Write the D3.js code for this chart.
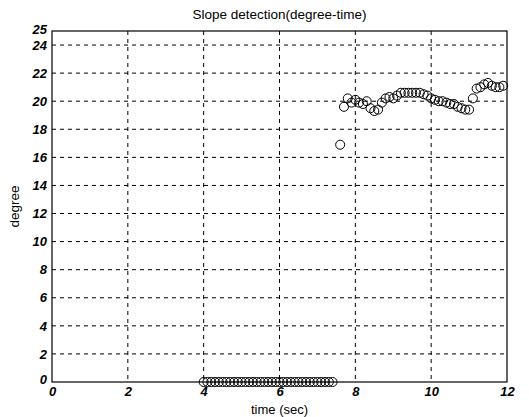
<!DOCTYPE html>
<html><head><meta charset="utf-8">
<script src="https://cdn.jsdelivr.net/npm/d3@7"></script>
<style>
body{margin:0;background:#fff;}
text{font-family:"Liberation Sans",Arial,sans-serif;}
</style></head>
<body><svg id="c" width="529" height="417"></svg>
<script>
const zeroTimes = [4.0,4.1,4.2,4.3,4.4,4.5,4.6,4.7,4.8,4.9,5.0,5.1,5.2,5.3,5.4,5.5,5.6,5.7,5.8,5.9,6.0,6.1,6.2,6.3,6.4,6.5,6.6,6.7,6.8,6.9,7.0,7.1,7.2,7.3,7.4];
const zeroValues = [0,0,0,0,0,0,0,0,0,0,0,0,0,0,0,0,0,0,0,0,0,0,0,0,0,0,0,0,0,0,0,0,0,0,0];
const highTimes = [7.6,7.7,7.8,7.9,8.0,8.1,8.2,8.3,8.4,8.5,8.6,8.7,8.8,8.9,9.0,9.1,9.2,9.3,9.4,9.5,9.6,9.7,9.8,9.9,10.0,10.1,10.2,10.3,10.4,10.5,10.6,10.7,10.8,10.9,11.0,11.1,11.2,11.3,11.4,11.5,11.6,11.7,11.8,11.9];
const highValues = [16.9,19.6,20.2,19.9,20.1,19.9,19.8,20.0,19.5,19.3,19.4,19.9,20.2,20.3,20.2,20.4,20.6,20.6,20.6,20.6,20.6,20.6,20.5,20.4,20.2,20.1,20.0,20.0,19.9,19.8,19.8,19.6,19.5,19.4,19.4,20.2,20.9,21.0,21.2,21.3,21.1,21.0,21.0,21.1];
const xTicks = [0,2,4,6,8,10,12];
const yTicks = [0,2,4,6,8,10,12,14,16,18,20,22,24,25];
const xGrid = [2,4,6,8,10];
const yGrid = [2,4,6,8,10,12,14,16,18,20,22,24];

const L=52,R=507,T=31,B=382;
const svg=d3.select("#c");
const x=d3.scaleLinear().domain([0,12]).range([L,R]);
const y=d3.scaleLinear().domain([0,25]).range([B,T]);

const g=svg.append("g");
g.selectAll(".vg").data(xGrid).join("line")
 .attr("x1",d=>x(d)).attr("x2",d=>x(d)).attr("y1",T).attr("y2",B)
 .attr("stroke","#000").attr("stroke-width",1).attr("stroke-dasharray","4,4");
g.selectAll(".hg").data(yGrid).join("line")
 .attr("x1",L).attr("x2",R).attr("y1",d=>y(d)).attr("y2",d=>y(d))
 .attr("stroke","#000").attr("stroke-width",1).attr("stroke-dasharray","4,4");

const xa=svg.append("g").attr("transform",`translate(0,${B})`)
 .call(d3.axisBottom(x).tickValues(xTicks).tickSize(0).tickPadding(5));
const ya=svg.append("g").attr("transform",`translate(${L},0)`)
 .call(d3.axisLeft(y).tickValues(yTicks).tickSize(0).tickPadding(5));
[xa,ya].forEach(a=>{a.select(".domain").remove();
 a.selectAll("text").attr("font-family","Liberation Sans, Arial, sans-serif")
  .attr("font-size",13).attr("font-weight","bold").attr("font-style","italic").attr("fill","#000");});
ya.selectAll("text").filter(d=>d===0).attr("dy","0.1em");
ya.selectAll("text").filter(d=>d===25).attr("dy","0.2em");

svg.append("rect").attr("x",L).attr("y",T).attr("width",R-L).attr("height",B-T)
 .attr("fill","none").attr("stroke","#000").attr("stroke-width",1.2);

const pts=zeroTimes.map((t,i)=>[t,zeroValues[i]]).concat(highTimes.map((t,i)=>[t,highValues[i]]));
svg.append("g").selectAll("circle").data(pts).join("circle")
 .attr("cx",d=>x(d[0])).attr("cy",d=>y(d[1])).attr("r",4.5)
 .attr("fill","none").attr("stroke","#000").attr("stroke-width",1);

svg.append("text").attr("x",(L+R)/2).attr("y",19).attr("text-anchor","middle")
 .attr("font-size",13.5).text("Slope detection(degree-time)");
svg.append("text").attr("x",(L+R)/2).attr("y",414).attr("text-anchor","middle")
 .attr("font-size",13).text("time (sec)");
svg.append("text").attr("transform",`translate(19,${(T+B)/2}) rotate(-90)`).attr("text-anchor","middle")
 .attr("font-size",13.5).text("degree");
</script></body></html>
